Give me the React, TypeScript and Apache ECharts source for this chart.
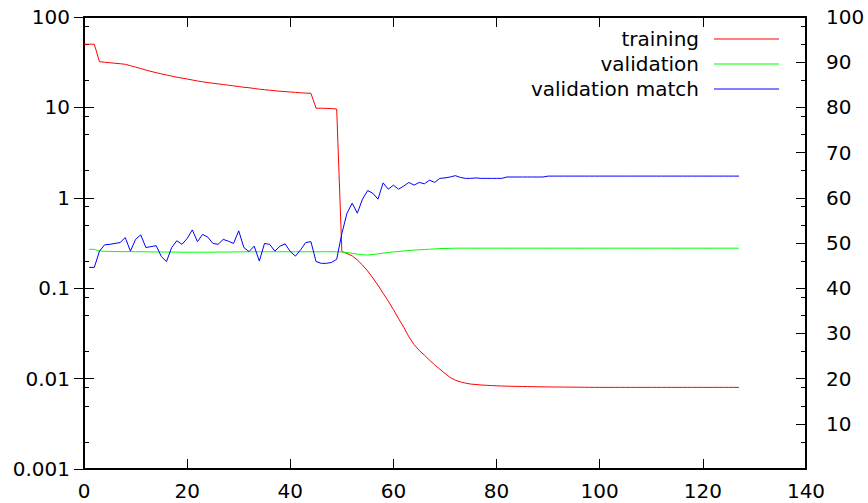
import React, { useEffect, useRef } from 'react';
import * as echarts from 'echarts';

const FONT = 'DejaVu Sans';

const seriesNames = ['training', 'validation', 'validation match'];

// training loss, epochs 0..127 (left log axis)
const trainingStart = 0;
const training = [
  50, 50, 50,
  32.0, 31.6, 31.2, 30.8, 30.4, 30.0, 28.9,
  27.9, 26.9, 25.9, 25.0, 24.2, 23.5, 22.8, 22.2, 21.6, 21.1,
  20.6, 20.1, 19.6, 19.2, 18.8, 18.5, 18.2, 17.9, 17.6, 17.3,
  17.0, 16.7, 16.5, 16.2, 15.9, 15.7, 15.5, 15.3, 15.1, 14.95,
  14.8, 14.65, 14.5, 14.4, 14.3, 9.8, 9.8, 9.75, 9.7, 9.6,
  0.254, 0.242, 0.228, 0.205, 0.18, 0.155, 0.13, 0.108, 0.088, 0.072,
  0.058, 0.046, 0.037, 0.029, 0.0238, 0.0205, 0.0182, 0.016, 0.0142, 0.0127,
  0.0114, 0.0103, 0.0096, 0.0092, 0.0089, 0.0087, 0.0086, 0.0085, 0.00843, 0.00837,
  0.00832, 0.00828, 0.00825, 0.00822, 0.0082, 0.00818, 0.00816, 0.00814, 0.00812, 0.0081,
  0.00809, 0.00808, 0.00807, 0.00806, 0.00805, 0.00804, 0.00803, 0.00802, 0.00801, 0.008,
  0.008, 0.008, 0.008, 0.008, 0.008, 0.008, 0.008, 0.008, 0.008, 0.008,
  0.008, 0.008, 0.008, 0.008, 0.008, 0.008, 0.008, 0.008, 0.008, 0.008,
  0.008, 0.008, 0.008, 0.008, 0.008, 0.008, 0.008, 0.008,
];

// validation loss, epochs 1..127 (left log axis)
const evalStart = 1;
const validation = [
  0.269, 0.269, 0.258, 0.256, 0.255, 0.254, 0.254, 0.254, 0.254, 0.253,
  0.253, 0.253, 0.252, 0.252, 0.252, 0.251, 0.251, 0.251, 0.25, 0.25,
  0.25, 0.25, 0.25, 0.25, 0.25, 0.251, 0.251, 0.251, 0.252, 0.252,
  0.253, 0.253, 0.253, 0.253, 0.253, 0.253, 0.253, 0.253, 0.253, 0.253,
  0.253, 0.253, 0.253, 0.253, 0.253, 0.253, 0.253, 0.253, 0.253, 0.252,
  0.248, 0.243, 0.238, 0.234, 0.233, 0.236, 0.24, 0.244, 0.248, 0.252,
  0.255, 0.258, 0.261, 0.264, 0.266, 0.268, 0.27, 0.272, 0.274, 0.275,
  0.276, 0.277, 0.277, 0.277, 0.277, 0.277, 0.277, 0.277, 0.277, 0.277,
  0.277, 0.277, 0.277, 0.277, 0.277, 0.277, 0.277, 0.277, 0.277, 0.277,
  0.277, 0.277, 0.277, 0.277, 0.277, 0.277, 0.277, 0.277, 0.277, 0.277,
  0.277, 0.277, 0.277, 0.277, 0.277, 0.277, 0.277, 0.277, 0.277, 0.277,
  0.277, 0.277, 0.277, 0.277, 0.277, 0.277, 0.277, 0.277, 0.277, 0.277,
  0.277, 0.277, 0.277, 0.277, 0.277, 0.277, 0.277,
];

// validation match (%), epochs 1..127 (right linear axis)
const validationMatch = [
  44.6, 44.6, 48.2, 49.6, 49.7, 49.9, 50.1, 51.2, 48.2, 50.8,
  51.8, 49.0, 49.2, 49.4, 47.0, 45.9, 49.0, 50.5, 49.7, 51.0,
  52.9, 50.3, 51.9, 51.3, 49.9, 49.7, 50.8, 50.4, 49.9, 52.7,
  49.0, 48.1, 49.3, 46.0, 49.9, 49.7, 48.2, 49.3, 49.8, 48.1,
  47.1, 48.5, 50.1, 50.3, 45.9, 45.5, 45.5, 45.7, 46.4, 52.1,
  56.6, 58.8, 56.6, 59.7, 61.6, 61.0, 59.7, 63.3, 61.9, 62.8,
  61.9, 62.6, 63.4, 62.8, 63.4, 63.1, 63.9, 63.4, 64.3, 64.4,
  64.6, 64.9, 64.5, 64.3, 64.3, 64.4, 64.3, 64.3, 64.3, 64.3,
  64.3, 64.6, 64.6, 64.6, 64.6, 64.6, 64.6, 64.6, 64.6, 64.8,
  64.8, 64.8, 64.8, 64.8, 64.8, 64.8, 64.8, 64.8, 64.8, 64.8,
  64.8, 64.8, 64.8, 64.8, 64.8, 64.8, 64.8, 64.8, 64.8, 64.8,
  64.8, 64.8, 64.8, 64.8, 64.8, 64.8, 64.8, 64.8, 64.8, 64.8,
  64.8, 64.8, 64.8, 64.8, 64.8, 64.8, 64.8,
];

const xTickValues = [0, 20, 40, 60, 80, 100, 120, 140];
const xTickLabels = ['0', '20', '40', '60', '80', '100', '120', '140'];
const leftTickValues = [0.001, 0.01, 0.1, 1, 10, 100];
const leftTickLabels = ['0.001', '0.01', '0.1', '1', '10', '100'];
const leftMinorTicks = [
  0.002, 0.005, 0.008, 0.02, 0.05, 0.08, 0.2, 0.5, 0.8,
  2, 5, 8, 20, 50, 80,
];
const rightTickValues = [10, 20, 30, 40, 50, 60, 70, 80, 90, 100];
const rightTickLabels = ['10', '20', '30', '40', '50', '60', '70', '80', '90', '100'];

const colors = ['#ff0000', '#00ff00', '#0000ff'];

function labelFor(values: number[], labels: string[], log: boolean) {
  return (v: number) => {
    for (let i = 0; i < values.length; i++) {
      const d = log
        ? Math.abs(Math.log10(v) - Math.log10(values[i]))
        : Math.abs(v - values[i]);
      if (d < 1e-6) return labels[i];
    }
    return '';
  };
}

const labelStyle = { fontFamily: FONT, fontSize: 20, color: '#000' };
const black = '#000';

export default function App() {
  const ref = useRef<HTMLDivElement>(null);
  useEffect(() => {
    if (!ref.current) return;
    const chart = echarts.init(ref.current, undefined, { renderer: 'svg' });
    const logBase = {
      type: 'log' as const,
      logBase: 10,
      min: 0.001,
      max: 100,
      splitLine: { show: false },
      minorSplitLine: { show: false },
    };
    const option: any = {
      animation: false,
      backgroundColor: '#fff',
      textStyle: { fontFamily: FONT },
      grid: { left: 84, right: 62, top: 17, bottom: 34, containLabel: false, outerBoundsMode: 'none' },
      legend: {
        data: seriesNames.map((name) => ({ name, icon: 'rect' })),
        orient: 'vertical',
        align: 'right',
        right: 89,
        top: 29,
        padding: 0,
        itemWidth: 65,
        itemHeight: 1,
        itemGap: 5,
        textStyle: { ...labelStyle, padding: [0, 10, 0, 0] },
      },
      xAxis: [
        {
          type: 'value',
          position: 'bottom',
          min: 0,
          max: 140,
          interval: 20,
          axisLine: { show: true, onZero: false, lineStyle: { color: black, width: 2 } },
          axisTick: { show: true, inside: true, length: 10, customValues: xTickValues, lineStyle: { color: black, width: 1 } },
          axisLabel: { ...labelStyle, margin: 12, customValues: xTickValues, formatter: labelFor(xTickValues, xTickLabels, false) },
          splitLine: { show: false },
        },
        {
          type: 'value',
          position: 'top',
          min: 0,
          max: 140,
          interval: 20,
          axisLine: { show: true, onZero: false, lineStyle: { color: black, width: 2 } },
          axisTick: { show: true, inside: true, length: 10, customValues: xTickValues, lineStyle: { color: black, width: 1 } },
          axisLabel: { show: false },
          splitLine: { show: false },
        },
      ],
      yAxis: [
        {
          ...logBase,
          position: 'left',
          axisLine: { show: true, onZero: false, lineStyle: { color: black, width: 2 } },
          axisTick: { show: true, inside: true, length: 10, customValues: leftTickValues, lineStyle: { color: black, width: 1 } },
          axisLabel: { ...labelStyle, margin: 14, customValues: leftTickValues, formatter: labelFor(leftTickValues, leftTickLabels, true) },
        },
        {
          ...logBase,
          position: 'left',
          axisLine: { show: false },
          axisTick: { show: true, inside: true, length: 5, customValues: leftMinorTicks, lineStyle: { color: black, width: 1 } },
          axisLabel: { show: false },
        },
        {
          type: 'value',
          position: 'right',
          min: 0,
          max: 100,
          interval: 10,
          axisLine: { show: true, onZero: false, lineStyle: { color: black, width: 2 } },
          axisTick: { show: true, inside: true, length: 10, customValues: rightTickValues, lineStyle: { color: black, width: 1 } },
          axisLabel: { ...labelStyle, margin: 20, customValues: rightTickValues, formatter: labelFor(rightTickValues, rightTickLabels, false) },
          splitLine: { show: false },
        },
        {
          ...logBase,
          position: 'right',
          axisLine: { show: false },
          axisTick: { show: true, inside: true, length: 10, customValues: leftTickValues, lineStyle: { color: black, width: 1 } },
          axisLabel: { show: false },
        },
        {
          ...logBase,
          position: 'right',
          axisLine: { show: false },
          axisTick: { show: true, inside: true, length: 5, customValues: leftMinorTicks, lineStyle: { color: black, width: 1 } },
          axisLabel: { show: false },
        },
      ],
      series: [
        {
          name: seriesNames[0],
          type: 'line',
          xAxisIndex: 0,
          yAxisIndex: 0,
          symbol: 'none',
          showSymbol: false,
          lineStyle: { color: colors[0], width: 1 },
          itemStyle: { color: colors[0] },
          data: training.map((v, i) => [trainingStart + i, v]),
        },
        {
          name: seriesNames[1],
          type: 'line',
          xAxisIndex: 0,
          yAxisIndex: 0,
          symbol: 'none',
          showSymbol: false,
          lineStyle: { color: colors[1], width: 1 },
          itemStyle: { color: colors[1] },
          data: validation.map((v, i) => [evalStart + i, v]),
        },
        {
          name: seriesNames[2],
          type: 'line',
          xAxisIndex: 0,
          yAxisIndex: 2,
          symbol: 'none',
          showSymbol: false,
          lineStyle: { color: colors[2], width: 1 },
          itemStyle: { color: colors[2] },
          data: validationMatch.map((v, i) => [evalStart + i, v]),
        },
      ],
    };
    chart.setOption(option);
    return () => chart.dispose();
  }, []);
  return (
    <div
      ref={ref}
      style={{ position: 'absolute', left: 0, top: 0, width: 868, height: 503, background: '#fff' }}
    />
  );
}
